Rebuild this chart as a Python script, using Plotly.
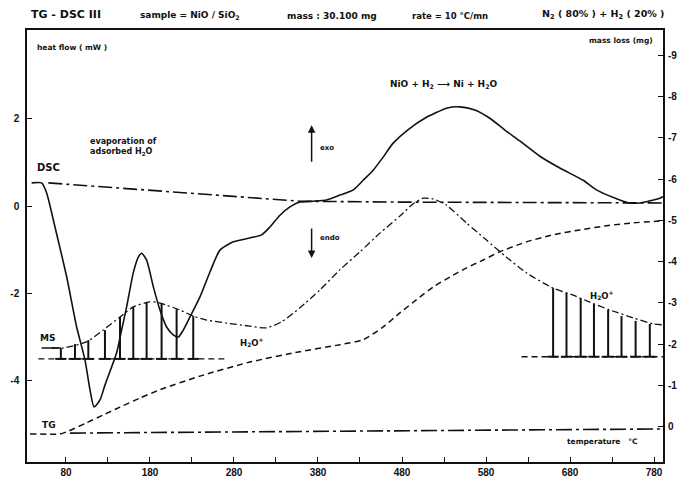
import plotly.graph_objects as go

# ---------------- data ----------------
# DSC heat flow (mW) vs temperature (°C)
dsc_T = [39.1, 51.0, 57.0, 66.9, 80.8, 92.7, 102.6, 108.6, 113.5, 120.5, 126.4, 140.3, 146.2,
         152.2, 160.1, 166.1, 170.1, 176.0, 184.0, 191.9, 199.8, 207.7, 213.7, 219.6, 227.6,
         239.5, 251.4, 263.3, 279.1, 299.0, 312.9, 322.8, 334.7, 346.6, 358.5, 374.3, 390.2,
         406.1, 422.0, 433.8, 445.7, 457.6, 469.5, 489.4, 507.2, 533.0, 548.9, 566.7, 584.6,
         602.4, 620.3, 644.1, 667.9, 695.6, 711.5, 739.3, 751.2, 763.1, 786.9, 790.9]
dsc_mW = [0.53, 0.53, 0.30, -0.48, -1.62, -2.77, -3.52, -4.21, -4.60, -4.44, -4.10, -3.36, -2.84,
          -2.31, -1.53, -1.17, -1.08, -1.24, -1.85, -2.38, -2.77, -2.95, -3.00, -2.84, -2.54, -2.08,
          -1.51, -1.01, -0.82, -0.73, -0.66, -0.48, -0.21, -0.02, 0.09, 0.11, 0.14, 0.25, 0.37,
          0.59, 0.82, 1.12, 1.44, 1.78, 2.01, 2.24, 2.27, 2.20, 2.01, 1.74, 1.49, 1.14, 0.87, 0.59,
          0.37, 0.14, 0.07, 0.07, 0.18, 0.21]

# DSC baseline (mW)
base_T = [59.0, 358.5, 477.5, 790.9]
base_mW = [0.53, 0.11, 0.09, 0.07]

# TG mass loss (mg)
tg_T = [37.2, 72.9, 80.8, 104.6, 124.4, 144.3, 168.1, 191.9, 239.5, 299.0, 358.5, 406.1, 433.8,
        457.6, 477.5, 497.3, 517.2, 537.0, 556.8, 576.6, 596.5, 628.2, 659.9, 691.7, 723.4,
        755.2, 790.9]
tg_mg = [0.17, 0.17, 0.12, -0.10, -0.29, -0.48, -0.70, -0.90, -1.23, -1.57, -1.82, -1.99, -2.11,
         -2.42, -2.76, -3.08, -3.39, -3.63, -3.85, -4.04, -4.24, -4.48, -4.65, -4.77, -4.87,
         -4.94, -4.99]

# temperature reference line (mg axis)
temp_T = [84.8, 790.9]
temp_mg = [0.15, 0.05]

# MS H2O+ envelope (drawn on heat-flow scale)
ms_T = [63.0, 76.8, 104.6, 124.4, 144.3, 160.1, 178.0, 187.9, 199.8, 215.7, 231.5, 247.4, 271.2,
        299.0, 318.8, 336.7, 358.5, 382.3, 406.1, 429.9, 453.7, 477.5, 493.3, 505.2, 517.2,
        533.0, 556.8, 580.6, 604.4, 628.2, 659.9, 683.7, 703.6, 727.4, 755.2, 779.0, 790.9]
ms_val = [-3.25, -3.25, -3.11, -2.84, -2.54, -2.31, -2.20, -2.20, -2.27, -2.38, -2.52, -2.61,
          -2.68, -2.75, -2.79, -2.65, -2.33, -1.92, -1.46, -1.05, -0.62, -0.23, 0.05, 0.18, 0.16,
          0.02, -0.39, -0.78, -1.17, -1.53, -1.88, -2.04, -2.20, -2.38, -2.56, -2.70, -2.72]

# MS stems, left group
msL_T = [73.9, 90.7, 106.6, 126.4, 144.3, 160.1, 176.0, 193.8, 211.7, 231.5]
msL_top = [-3.25, -3.16, -3.07, -2.84, -2.54, -2.31, -2.20, -2.22, -2.36, -2.52]
msL_base = -3.50
msL_span = [47.1, 271.2]
msL_hook = 51.0

# MS stems, right group
msR_T = [659.9, 675.8, 692.7, 708.5, 725.4, 741.3, 758.1, 775.0]
msR_top = [-1.88, -1.99, -2.11, -2.24, -2.38, -2.52, -2.63, -2.70]
msR_base = -3.45
msR_span = [622.3, 790.9]

x_ticks = [80, 130, 180, 230, 280, 330, 380, 430, 480, 530, 580, 630, 680, 730, 780]
x_labels = ["80", "", "180", "", "280", "", "380", "", "480", "", "580", "", "680", "", "780"]
hf_ticks = [-4, -2, 0, 2]
ml_ticks = [-9, -8, -7, -6, -5, -4, -3, -2, -1, 0]

# ---------------- figure ----------------
FONT = "DejaVu Sans, Liberation Sans, Arial, sans-serif"
TICKFONT = "Liberation Sans, Arial, sans-serif"
INK = "#111111"

fig = go.Figure()

fig.add_trace(go.Scatter(x=base_T, y=base_mW, mode="lines",
                         line=dict(color=INK, width=1.6, dash="14px,4px,3px,4px")))
fig.add_trace(go.Scatter(x=dsc_T, y=dsc_mW, mode="lines", line_shape="spline",
                         line=dict(color=INK, width=1.6, smoothing=0.6)))
fig.add_trace(go.Scatter(x=ms_T, y=ms_val, mode="lines", line_shape="spline",
                         line=dict(color=INK, width=1.3, dash="7px,3px,2px,3px", smoothing=0.6)))

# stems
for sT, sTop, sBase, span in [(msL_T, msL_top, msL_base, msL_span),
                              (msR_T, msR_top, msR_base, msR_span)]:
    fig.add_trace(go.Scatter(x=span, y=[sBase, sBase], mode="lines",
                             line=dict(color=INK, width=1.3, dash="6px,4px")))
    xs, ys = [], []
    for t, top in zip(sT, sTop):
        xs += [t, t, None]
        ys += [sBase, top, None]
    fig.add_trace(go.Scatter(x=xs, y=ys, mode="lines", line=dict(color=INK, width=2)))
    fig.add_trace(go.Scatter(x=sT, y=[sBase] * len(sT), mode="markers",
                             marker=dict(symbol="line-ew-open", size=8, color=INK,
                                         line=dict(color=INK, width=2))))

# first MS hook
fig.add_trace(go.Scatter(x=[msL_hook, msL_T[0]], y=[msL_top[0], msL_top[0]], mode="lines",
                         line=dict(color=INK, width=1.5)))

fig.add_trace(go.Scatter(x=tg_T, y=tg_mg, mode="lines", yaxis="y2", line_shape="spline",
                         line=dict(color=INK, width=1.5, dash="6px,4px", smoothing=0.6)))
fig.add_trace(go.Scatter(x=temp_T, y=temp_mg, mode="lines", yaxis="y2",
                         line=dict(color=INK, width=1.6, dash="16px,4px,3px,4px")))

# page is offset by the 8px body margin; plot area spans page x 27..663, y 30..462
PX0, PW, PY1, PH = 27, 636, 462, 432


def px(x):
    return (x - PX0) / PW


def py(y):
    return (PY1 - y) / PH


texts = [
    ("<b>TG - DSC III</b>", 29, 14, "left", 11),
    ("<b>sample = NiO / SiO<sub>2</sub></b>", 138, 16, "left", 9),
    ("<b>mass : 30.100 mg</b>", 285, 16, "left", 9),
    ("<b>rate = 10 °C/mn</b>", 410, 16, "left", 8.5),
    ("<b>N<sub>2</sub> ( 80% ) + H<sub>2</sub> ( 20% )</b>", 666, 14, "right", 9.5),
    ("<b>heat flow ( mW )</b>", 35, 47, "left", 7.5),
    ("<b>mass loss (mg)</b>", 655, 41, "right", 7.5),
    ("<b>DSC</b>", 35, 167, "left", 10),
    ("<b>evaporation of</b>", 88, 141, "left", 8),
    ("<b>adsorbed H<sub>2</sub>O</b>", 88, 152, "left", 8),
    ("<b>NiO + H<sub>2</sub> ⟶ Ni + H<sub>2</sub>O</b>", 388, 85, "left", 9),
    ("<b>exo</b>", 318, 148, "left", 7),
    ("<b>endo</b>", 318, 238, "left", 7),
    ("<b>MS</b>", 38, 338, "left", 9),
    ("<b>H<sub>2</sub>O<sup>+</sup></b>", 238, 342, "left", 8.5),
    ("<b>H<sub>2</sub>O<sup>+</sup></b>", 588, 295, "left", 8.5),
    ("<b>TG</b>", 40, 425, "left", 9),
    ("<b>temperature   °C</b>", 565, 441, "left", 7.5),
]
annotations = []
for t, x, y, anc, sz in texts:
    annotations.append(dict(text=t, x=px(x), y=py(y), xref="paper", yref="paper",
                            xanchor=anc, yanchor="middle", showarrow=False,
                            font=dict(family=FONT, size=sz, color=INK)))

# right-axis (mass loss) tick labels
for v in ml_ticks:
    annotations.append(dict(text="<b>%d</b>" % v, x=px(666), y=v, xref="paper", yref="y2",
                            xanchor="left", yanchor="middle", showarrow=False,
                            font=dict(family=TICKFONT, size=10, color=INK)))

# exo / endo arrows (data coordinates)
annotations.append(dict(x=372.4, y=1.85, ax=372.4, ay=0.98, xref="x", yref="y", axref="x",
                        ayref="y", text="", showarrow=True, arrowhead=2, arrowsize=1,
                        arrowwidth=1.5, arrowcolor=INK))
annotations.append(dict(x=372.4, y=-1.19, ax=372.4, ay=-0.48, xref="x", yref="y", axref="x",
                        ayref="y", text="", showarrow=True, arrowhead=2, arrowsize=1,
                        arrowwidth=1.5, arrowcolor=INK))

fig.update_layout(
    width=677, height=474,
    margin=dict(l=19, r=22, t=22, b=20, autoexpand=False),
    paper_bgcolor="white", plot_bgcolor="white",
    showlegend=False,
    font=dict(family=FONT, color=INK),
    annotations=annotations,
    xaxis=dict(range=[33.6, 790.7], showline=True, linecolor=INK, linewidth=1.5, mirror=True,
               ticks="inside", ticklen=5, tickwidth=1.2, tickcolor=INK, automargin=False,
               tickvals=x_ticks, ticktext=x_labels, showgrid=False, zeroline=False,
               tickfont=dict(family=TICKFONT, size=10, color=INK, weight="bold")),
    yaxis=dict(range=[-5.86, 4.03], showline=True, linecolor=INK, linewidth=1.5,
               ticks="inside", ticklen=5, tickwidth=1.2, tickcolor=INK, automargin=False,
               tickvals=hf_ticks, ticktext=[str(v) for v in hf_ticks],
               showgrid=False, zeroline=False, ticklabelstandoff=4,
               tickfont=dict(family=TICKFONT, size=10, color=INK, weight="bold")),
    yaxis2=dict(range=[0.85, -9.61], overlaying="y", side="right", showline=True,
                linecolor=INK, linewidth=2, ticks="inside", ticklen=5, tickwidth=1.2,
                tickcolor=INK, tickvals=ml_ticks, showticklabels=False, automargin=False,
                showgrid=False, zeroline=False),
)

fig.write_html("out.html")
